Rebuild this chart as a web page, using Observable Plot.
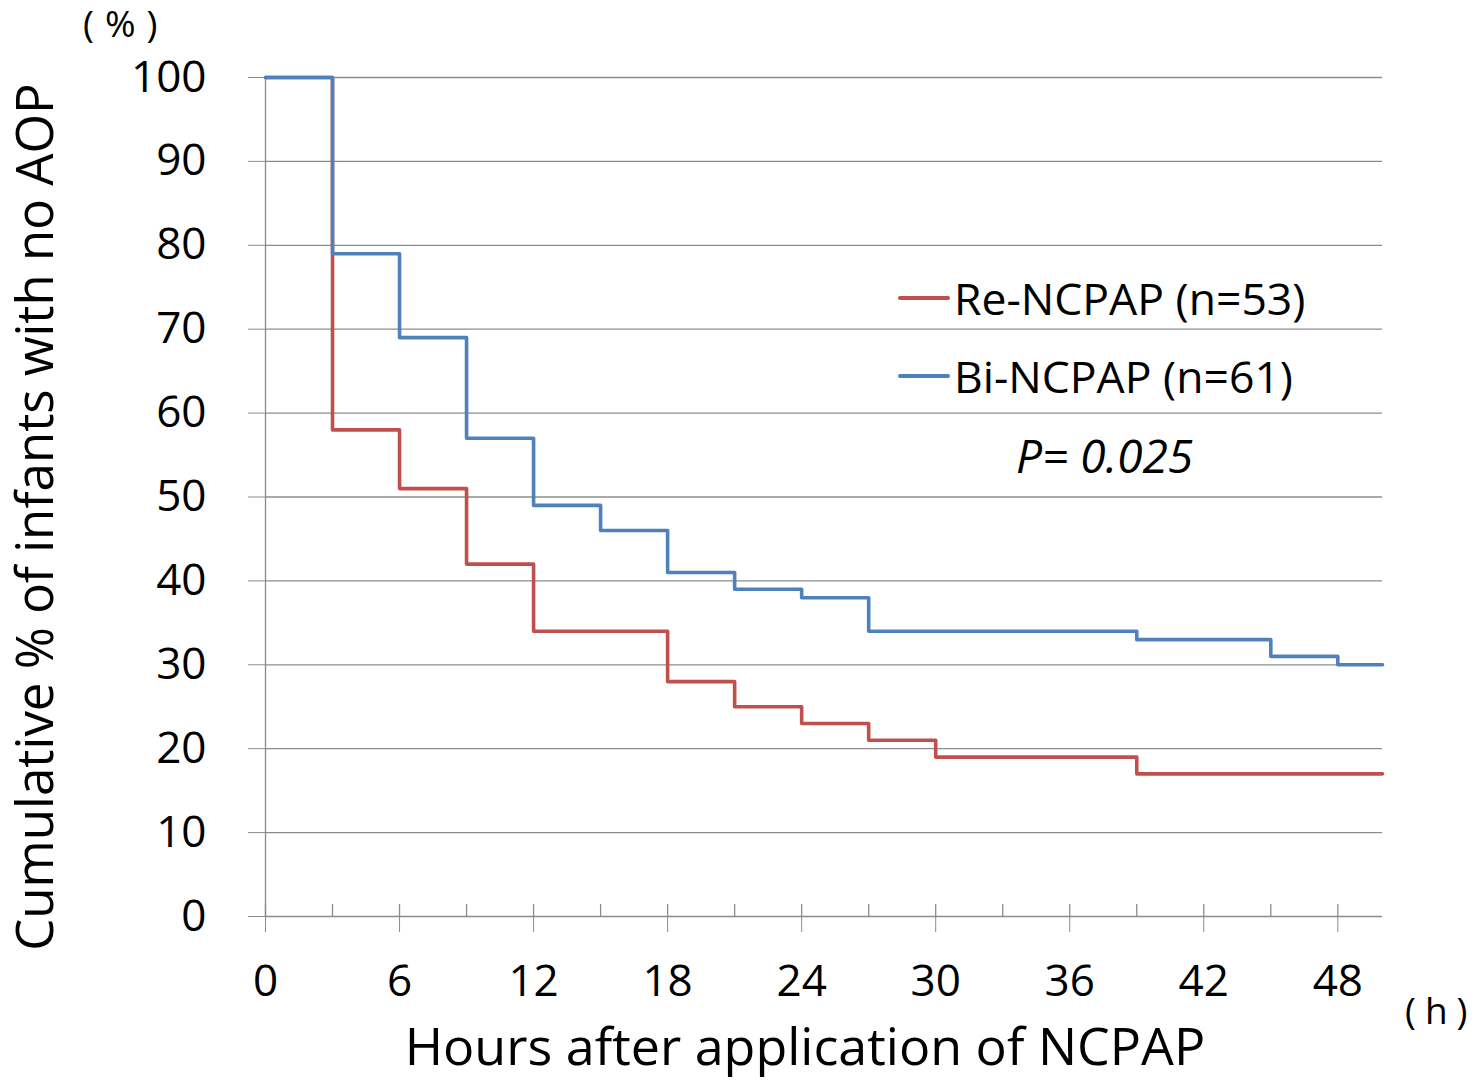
<!DOCTYPE html>
<html>
<head>
<meta charset="utf-8">
<script src="https://cdn.jsdelivr.net/npm/d3@7"></script>
<script src="https://cdn.jsdelivr.net/npm/@observablehq/plot@0.6"></script>
<style>
  html, body { margin: 0; padding: 0; background: #fff; }
  #wrap { position: relative; width: 1483px; height: 1080px; font-family: "Open Sans", sans-serif; color: #000; }
  .leg { position: absolute; display: flex; align-items: center; font-size: 44.5px; white-space: nowrap; line-height: 1; }
  .sw { display: inline-block; width: 52px; height: 4px; border-radius: 2px; margin-right: 4px; }
  .pval { position: absolute; font-size: 46px; font-style: italic; white-space: nowrap; line-height: 1; }
  .unit { position: absolute; font-family: "Open Sans", sans-serif; font-size: 37px; line-height: 1; white-space: nowrap; }
</style>
</head>
<body>
<div id="wrap"></div>
<script>
// ---- data ----
const redTime  = [0, 3, 6, 9, 12, 18, 21, 24, 27, 30, 39, 50];
const redPct   = [100, 58, 51, 42, 34, 28, 25, 23, 21, 19, 17, 17];
const blueTime = [0, 3, 6, 9, 12, 15, 18, 21, 24, 27, 39, 45, 48, 50];
const bluePct  = [100, 79, 69, 57, 49, 46, 41, 39, 38, 34, 33, 31, 30, 30];
const xMajorTicks = [0, 6, 12, 18, 24, 30, 36, 42, 48];
const xMinorTicks = [3, 9, 15, 21, 27, 33, 39, 45];
const yTicks = [0, 10, 20, 30, 40, 50, 60, 70, 80, 90, 100];
const seriesNames = ["Re-NCPAP (n=53)", "Bi-NCPAP (n=61)"];
const xTitle = "Hours after application of NCPAP";
const yTitle = "Cumulative % of infants with no AOP";
const pText = "P= 0.025";
const yUnit = "(%)";
const xUnit = "(h)";

const RED = "#C0504D", BLUE = "#4F81BD", GRID = "#8C8C8C";

const red = redTime.map((t, i) => ({t, p: redPct[i]}));
const blue = blueTime.map((t, i) => ({t, p: bluePct[i]}));

const chart = Plot.plot({
  width: 1483,
  height: 1080,
  marginLeft: 265,
  marginRight: 101,
  marginTop: 77,
  marginBottom: 164,
  style: {fontFamily: "Open Sans, sans-serif", background: "#fff", color: "#000"},
  x: {domain: [0, 50]},
  y: {domain: [0, 100]},
  marks: [
    Plot.ruleY(yTicks, {stroke: GRID, strokeWidth: 1.3}),
    Plot.ruleX([0], {stroke: GRID, strokeWidth: 1.3}),
    Plot.ruleX(xMajorTicks.concat(xMinorTicks), {x: d => d, y1: 0, y2: 0, insetTop: -12, stroke: GRID, strokeWidth: 1.3}),
    Plot.axisY({ticks: yTicks, tickSize: 17, tickPadding: 42, stroke: GRID, fill: "#000", fontSize: 44, label: null}),
    Plot.axisX({ticks: xMajorTicks, tickSize: 16, tickPadding: 32, stroke: GRID, fill: "#000", fontSize: 44, label: null}),
    Plot.line(red, {x: "t", y: "p", curve: "step-after", stroke: RED, strokeWidth: 3.6}),
    Plot.line(blue, {x: "t", y: "p", curve: "step-after", stroke: BLUE, strokeWidth: 3.6}),
    Plot.text([xTitle], {frameAnchor: "bottom", dx: -19, dy: 148, fontSize: 52, fill: "#000", lineAnchor: "bottom", textAnchor: "middle"}),
    Plot.text([yTitle], {frameAnchor: "left", dx: -229, dy: 20, rotate: -90, fontSize: 51, fill: "#000", lineAnchor: "middle", textAnchor: "middle"})
  ]
});

const wrap = document.getElementById("wrap");
wrap.appendChild(chart);

function legendItem(color, label, top) {
  const d = document.createElement("div");
  d.className = "leg";
  d.style.left = "898px";
  d.style.top = top + "px";
  const sw = document.createElement("span");
  sw.className = "sw";
  sw.style.background = color;
  d.appendChild(sw);
  d.appendChild(document.createTextNode(label));
  wrap.appendChild(d);
}
legendItem(RED, seriesNames[0], 276);
legendItem(BLUE, seriesNames[1], 354);

const p = document.createElement("div");
p.className = "pval";
p.style.left = "1016px";
p.style.top = "432px";
p.textContent = pText;
wrap.appendChild(p);

const u1 = document.createElement("div");
u1.className = "unit";
u1.style.left = "83px";
u1.style.top = "4px";
u1.style.letterSpacing = "11px";
u1.textContent = yUnit;
wrap.appendChild(u1);

const u2 = document.createElement("div");
u2.className = "unit";
u2.style.left = "1405px";
u2.style.top = "991px";
u2.style.letterSpacing = "9px";
u2.textContent = xUnit;
wrap.appendChild(u2);
</script>
</body>
</html>
